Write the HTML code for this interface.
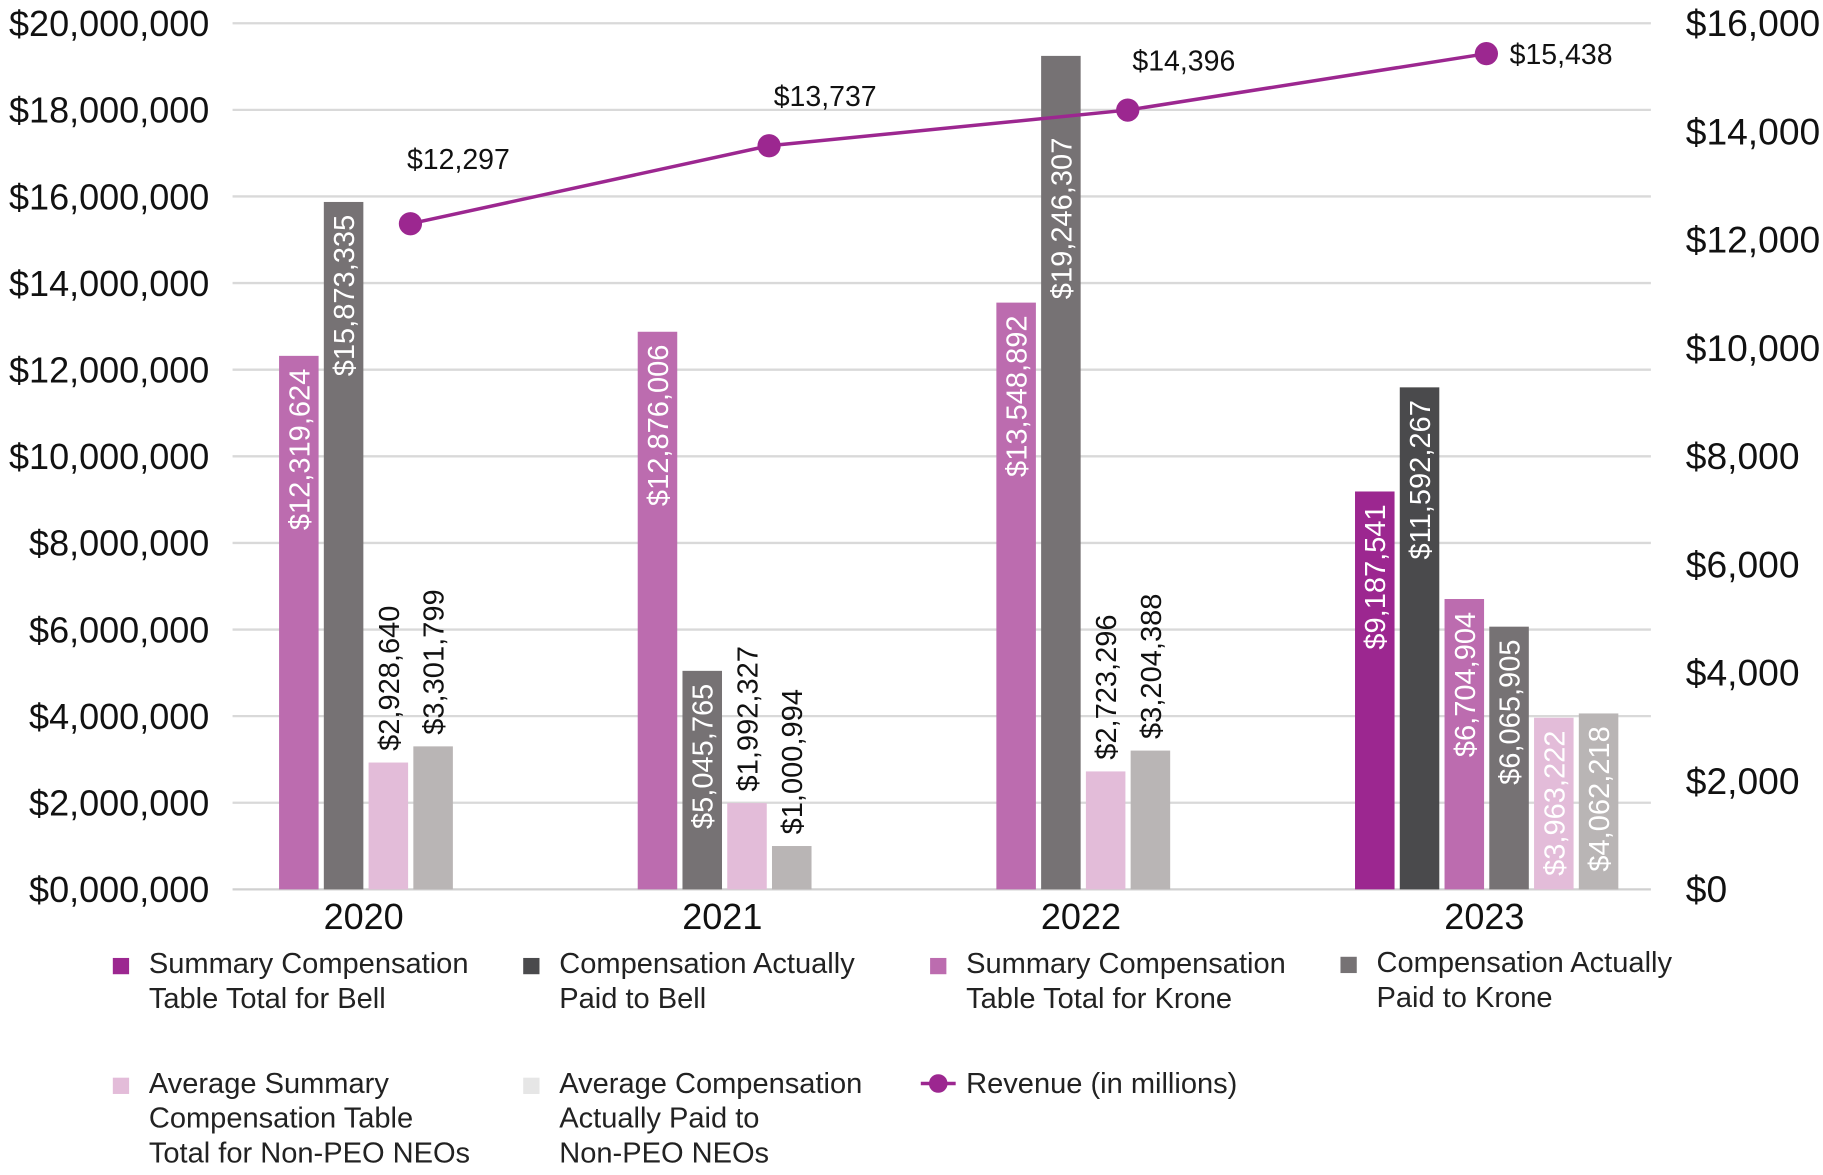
<!DOCTYPE html>
<html><head><meta charset="utf-8"><style>
html,body{margin:0;padding:0;background:#fff}
svg{display:block;font-family:"Liberation Sans",sans-serif}
</style></head><body>
<svg id="chart" width="1823" height="1175" viewBox="0 0 1568 1010.7" xmlns="http://www.w3.org/2000/svg">
<g id="grid"></g><g id="bars"></g><g id="line"></g><g id="legend"></g>
</svg>
<script>
const years = ['2020','2021','2022','2023'];
const bellSummary = [null,null,null,9187541];
const bellCap = [null,null,null,11592267];
const kroneSummary = [12319624,12876006,13548892,6704904];
const kroneCap = [15873335,5045765,19246307,6065905];
const avgSummary = [2928640,1992327,2723296,3963222];
const avgCap = [3301799,1000994,3204388,4062218];
const revenue = [12297,13737,14396,15438];
const leftTicks = [0,2000000,4000000,6000000,8000000,10000000,12000000,14000000,16000000,18000000,20000000];
const rightTicks = [0,2000,4000,6000,8000,10000,12000,14000,16000];

const NS='http://www.w3.org/2000/svg';
function mk(tag,attrs,parent,txt){const e=document.createElementNS(NS,tag);for(const k in attrs)e.setAttribute(k,attrs[k]);if(txt!==undefined)e.textContent=txt;parent.appendChild(e);return e;}
const yTop=20,yBot=765,x0=200,x1=1420;
const yL=v=>yBot-v/20000000*(yBot-yTop);
const yR=v=>yBot-v/16000*(yBot-yTop);
const groupStart=i=>240+i*308.5;
const px=i=>groupStart(i)+113;
const fmt=v=>'$'+v.toLocaleString('en-US');
function lineYAt(x){
  for(let i=0;i<revenue.length-1;i++){
    if(x>=px(i)&&x<=px(i+1)){const f=(x-px(i))/(px(i+1)-px(i));return yR(revenue[i])+f*(yR(revenue[i+1])-yR(revenue[i]));}
  }
  return null;
}
const grid=document.getElementById('grid');
leftTicks.forEach(t=>{
  const l=mk('line',{x1:x0,x2:x1,y1:yL(t),y2:yL(t),stroke:t===0?'#d0d0d0':'#d9d9d9','stroke-width':2},grid);
  
  
  const s=t.toLocaleString('en-US');
  const lab=mk('text',{x:180,y:yL(t)+11,'text-anchor':'end','font-size':31,fill:'#111'},grid,'$'+(t===0?'0,000,000':s));
  
  
});
rightTicks.forEach(t=>{
  const lab=mk('text',{x:1450,y:yR(t)+11,'font-size':32,fill:'#111'},grid,'$'+t.toLocaleString('en-US'));
  
  
});
const series=[
 {d:bellSummary,c:'#9C2790',n:'bell-summary'},
 {d:bellCap,c:'#4A4A4C',n:'bell-cap'},
 {d:kroneSummary,c:'#BC6CAF',n:'krone-summary'},
 {d:kroneCap,c:'#767274',n:'krone-cap'},
 {d:avgSummary,c:'#E3BCD9',n:'avg-summary'},
 {d:avgCap,c:'#B9B5B5',n:'avg-cap'}];
const bars=document.getElementById('bars');
const pitch=38.5,bw=34;
years.forEach((yr,i)=>{
  let slot=0;
  series.forEach(s=>{
    const v=s.d[i]; if(v===null) return;
    const x=groupStart(i)+slot*pitch; slot++;
    const r=mk('rect',{x:x,y:yL(v),width:bw,height:yBot-yL(v),fill:s.c},bars);
    
    
    const inside=v>=3900000;
    const cx=x+bw/2+9;
    let ty=inside?yL(v)+11:yL(v)-10;
    if(inside){const ly=lineYAt(x+bw/2); if(ly!==null&&ly>yL(v)&&ly<yL(v)+150) ty=ly+18;}
    const t=mk('text',{x:cx,y:ty,transform:`rotate(-90 ${cx} ${ty})`,'text-anchor':inside?'end':'start','font-size':25,fill:inside?'#fff':'#111'},bars,fmt(v));
    
    
  });
  const cxl=groupStart(i)+(slot*pitch-4.5)/2;
  const cl=mk('text',{x:cxl-2,y:799,'text-anchor':'middle','font-size':31,fill:'#111'},bars,yr);
  
  
});
const lg=document.getElementById('line');
const pts=revenue.map((v,i)=>px(i)+','+yR(v)).join(' ');
const pl=mk('polyline',{points:pts,fill:'none',stroke:'#9C2790','stroke-width':3},lg);


revenue.forEach((v,i)=>{
  const c=mk('circle',{cx:px(i),cy:yR(v),r:10,fill:'#9C2790'},lg);
  
  
  const last=i===revenue.length-1;
  const lx=last?px(i)+20:px(i)+(i===0?-3:4);
  const ly=last?yR(v)+9:yR(v)-(i===0?47:34);
  const t=mk('text',{x:lx,y:ly,'font-size':24.5,fill:'#111'},lg,fmt(v));
  
  
});
const leg=document.getElementById('legend');
const items=[
 {x:97,y:837,c:'#9C2790',l:['Summary Compensation','Table Total for Bell']},
 {x:450,y:837,c:'#4A4A4C',l:['Compensation Actually','Paid to Bell']},
 {x:800,y:837,c:'#BC6CAF',l:['Summary Compensation','Table Total for Krone']},
 {x:1153,y:836,c:'#767274',l:['Compensation Actually','Paid to Krone']},
 {x:97,y:940,c:'#E3BCD9',l:['Average Summary','Compensation Table','Total for Non-PEO NEOs']},
 {x:450,y:940,c:'#E6E6E6',l:['Average Compensation','Actually Paid to','Non-PEO NEOs']}];
items.forEach(it=>{
  const g=mk('g',{},leg);
  
  
  mk('rect',{x:it.x,y:it.y-13,width:14,height:14,fill:it.c},g);
  it.l.forEach((s,k)=>mk('text',{x:it.x+31,y:it.y+k*30,'font-size':25,fill:'#222'},g,s));
});
const g2=mk('g',{},leg);


mk('line',{x1:792,x2:822,y1:932,y2:932,stroke:'#9C2790','stroke-width':3},g2);
mk('circle',{cx:807,cy:932,r:8,fill:'#9C2790'},g2);
mk('text',{x:831,y:940,'font-size':25,fill:'#222'},g2,'Revenue (in millions)');
</script>
</body></html>
